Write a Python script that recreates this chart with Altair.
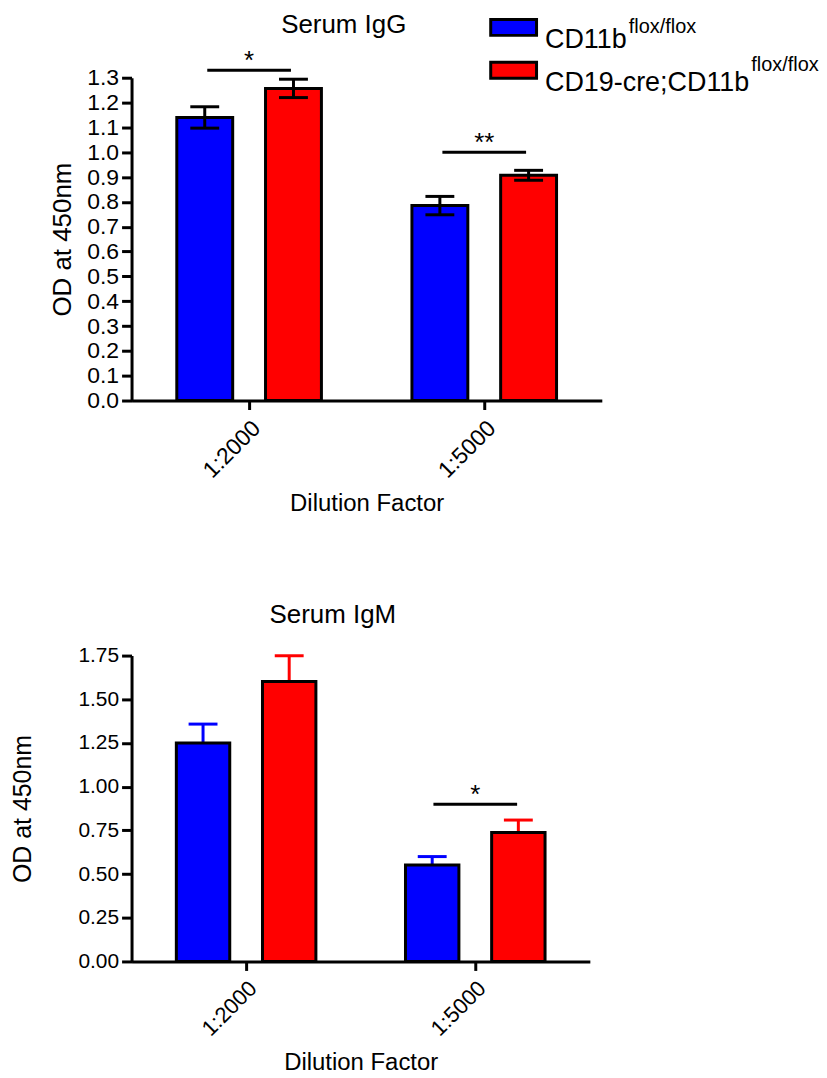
import altair as alt
import pandas as pd

# ---------------- data ----------------
dilutions = ["1:2000", "1:5000"]
groups = ["CD11b", "CD19-cre;CD11b"]
superscript = "flox/flox"
colors = ["#0000FF", "#FF0000"]

igg_mean_ctrl = [1.14, 0.785]
igg_sem_ctrl = [0.043, 0.037]
igg_mean_ko = [1.257, 0.907]
igg_sem_ko = [0.037, 0.02]

igm_mean_ctrl = [1.25, 0.552]
igm_sem_ctrl = [0.108, 0.048]
igm_mean_ko = [1.602, 0.738]
igm_sem_ko = [0.147, 0.071]

igg_sig_dilution = ["1:2000", "1:5000"]
igg_sig_label = ["*", "**"]
igg_sig_y = [1.33, 1.0]

igm_sig_dilution = ["1:5000"]
igm_sig_label = ["*"]
igm_sig_y = [0.9]

igg_ticks = [round(i * 0.1, 1) for i in range(14)]
igm_ticks = [0, 0.25, 0.5, 0.75, 1.0, 1.25, 1.5, 1.75]

FONT = "Liberation Sans"


def make_df(mc, sc, mk, sk):
    rows = []
    for i, d in enumerate(dilutions):
        rows.append({"dilution": d, "group": groups[0], "mean": mc[i], "sem": sc[i]})
        rows.append({"dilution": d, "group": groups[1], "mean": mk[i], "sem": sk[i]})
    df = pd.DataFrame(rows)
    df["lo"] = df["mean"] - df["sem"]
    df["hi"] = df["mean"] + df["sem"]
    return df


igg = make_df(igg_mean_ctrl, igg_sem_ctrl, igg_mean_ko, igg_sem_ko)
igm = make_df(igm_mean_ctrl, igm_sem_ctrl, igm_mean_ko, igm_sem_ko)
igg_sig = pd.DataFrame({"dilution": igg_sig_dilution, "label": igg_sig_label, "y": igg_sig_y})
igm_sig = pd.DataFrame({"dilution": igm_sig_dilution, "label": igm_sig_label, "y": igm_sig_y})


def panel(df, sig, ticks, ymax, width, height, title, title_x, title_y,
          ytick_font, xtick_font, ytitle_font, xtitle_font, title_pad, xtitle_pad,
          err_colored, legend, p_in, p_out):
    xscale = alt.Scale(domain=dilutions, paddingInner=0, paddingOuter=0)
    xaxis = alt.Axis(title="Dilution Factor", labelAngle=-45, labelFontSize=xtick_font,
                     titleFontSize=xtitle_font, titleFontWeight="normal", tickSize=9, tickWidth=3,
                     tickColor="black", domainColor="black", domainWidth=3,
                     labelColor="black", titleColor="black", labelPadding=7,
                     titlePadding=xtitle_pad)
    yscale = alt.Scale(domain=[0, ymax], nice=False)
    yaxis = alt.Axis(title="OD at 450nm", values=ticks, format=".2f" if ymax > 1.5 else ".1f",
                     labelFontSize=ytick_font, titleFontSize=ytitle_font, titleFontWeight="normal",
                     tickSize=10, tickWidth=3, tickColor="black", domainColor="black",
                     domainWidth=3, labelColor="black", titleColor="black", grid=False,
                     labelPadding=3, titlePadding=title_pad)

    def X():
        return alt.X("dilution:N", scale=xscale, axis=xaxis)

    def XO():
        return alt.XOffset("group:N", scale=alt.Scale(domain=groups, paddingInner=p_in,
                                                       paddingOuter=p_out))

    def Y(field):
        return alt.Y(field, scale=yscale, axis=yaxis)

    color_scale = alt.Scale(domain=groups, range=colors)

    base = alt.Chart(df)
    if legend:
        leg = alt.Legend(title=None, orient="none", legendX=370, legendY=-64,
                         symbolType="M-2.875,-1H2.875V1H-2.875Z", symbolSize=256,
                         symbolStrokeColor="black", symbolStrokeWidth=3, symbolOpacity=1,
                         labelFontSize=27, labelColor="black", labelBaseline="top",
                         labelOffset=18, rowPadding=2, padding=0, labelLimit=0)
    else:
        leg = None
    bars = base.mark_bar(stroke="black", strokeWidth=3, opacity=1).encode(
        x=X(), xOffset=XO(), y=Y("mean:Q"),
        color=alt.Color("group:N", scale=color_scale, legend=leg),
    )
    if err_colored:
        stem = base.mark_rule(strokeWidth=3).encode(
            x=X(), xOffset=XO(), y=Y("mean:Q"), y2="hi:Q",
            color=alt.Color("group:N", scale=color_scale, legend=None))
        cap = base.mark_tick(size=29, thickness=3, opacity=1).encode(
            x=X(), xOffset=XO(), y=Y("hi:Q"),
            color=alt.Color("group:N", scale=color_scale, legend=None))
        layers = [stem, cap, bars]
    else:
        stem = base.mark_rule(strokeWidth=3, color="black").encode(
            x=X(), xOffset=XO(), y=Y("lo:Q"), y2="hi:Q")
        cap_hi = base.mark_tick(size=29, thickness=3, color="black", opacity=1).encode(
            x=X(), xOffset=XO(), y=Y("hi:Q"))
        cap_lo = base.mark_tick(size=29, thickness=3, color="black", opacity=1).encode(
            x=X(), xOffset=XO(), y=Y("lo:Q"))
        layers = [bars, stem, cap_hi, cap_lo]

    sig_line = alt.Chart(sig).mark_tick(size=84, thickness=3, color="black", opacity=1).encode(
        x=X(), y=Y("y:Q"))
    sig_text = alt.Chart(sig).mark_text(fontSize=26, color="black", baseline="alphabetic",
                                        dy=-1).encode(x=X(), y=Y("y:Q"), text="label:N")
    layers += [sig_line, sig_text]

    title_mark = alt.Chart(pd.DataFrame({"t": [title]})).mark_text(
        fontSize=26, align="center", baseline="alphabetic", color="black").encode(
        x=alt.value(title_x), y=alt.value(title_y), text="t:N")
    layers.append(title_mark)

    if legend:
        sup1 = alt.Chart(pd.DataFrame({"s": [superscript]})).mark_text(
            fontSize=20, align="left", baseline="alphabetic", color="black").encode(
            x=alt.value(499), y=alt.value(-45), text="s:N")
        sup2 = alt.Chart(pd.DataFrame({"s": [superscript]})).mark_text(
            fontSize=20, align="left", baseline="alphabetic", color="black").encode(
            x=alt.value(622), y=alt.value(-7), text="s:N")
        layers += [sup1, sup2]

    return alt.layer(*layers).properties(width=width, height=height)


top = panel(igg, igg_sig, igg_ticks, 1.3, 472, 324, "Serum IgG", 213, -45,
            23, 23, 26, 24, 11, 9, False, True, 0.37, 0.51)
bottom = panel(igm, igm_sig, igm_ticks, 1.75, 460, 307, "Serum IgM", 202, -33,
               21, 22, 25, 24, 43, 11, True, False, 0.38, 0.52)

chart = alt.vconcat(top, bottom, spacing=86).resolve_scale(
    color="independent", x="independent", y="independent", xOffset="independent"
).properties(padding={"left": 2, "top": 2, "right": 0, "bottom": 0}).configure(
    font=FONT
).configure_view(stroke=None)

chart.save("out.html", embed_options={"renderer": "svg", "actions": False})
